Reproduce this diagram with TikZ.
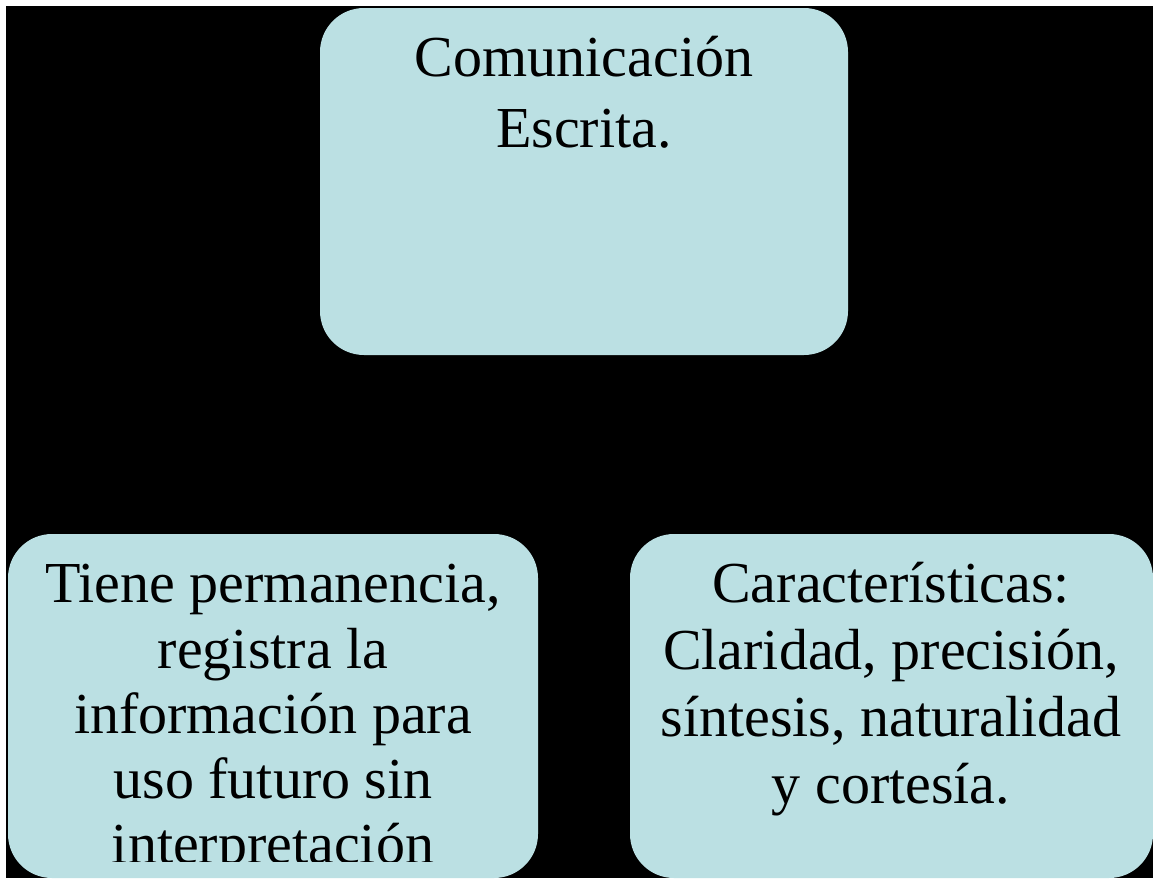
\documentclass[tikz,border=0pt]{standalone}
\usepackage{fontspec}
\setmainfont{Liberation Serif}
\definecolor{cajaazul}{RGB}{187,224,227}
\tikzset{
    caja/.style={fill=cajaazul, rounded corners=44pt},
    texto/.style={anchor=base, inner sep=0pt, font=\fontsize{58}{70}\selectfont}
}
\begin{document}
\begin{tikzpicture}[x=1pt, y=-1pt]
        % Rahmen und Hintergrund
        \useasboundingbox (0,0) rectangle (1153,878);
        \fill[white] (0,0) rectangle (1153,878);
        \fill[black] (6,6) rectangle (1153,878);

        % zeichne Kaesten
        \fill[caja] (320,8) rectangle (848,355);
        \fill[caja] (8,534) rectangle (538,878);
        \fill[caja] (630,534) rectangle (1153,878);

        % Text oben
        \node[texto] (oben1) at (584,76) {Comunicación};
        \node[texto] (oben2) at (584,147) {Escrita.};

        % Text links (unten abgeschnitten)
        \begin{scope}
            \clip (0,0) rectangle (1153,861);
            \node[texto] (links1) at (273,602) {Tiene permanencia,};
            \node[texto] (links2) at (273,668) {registra la};
            \node[texto] (links3) at (273,733) {información para};
            \node[texto] (links4) at (273,798) {uso futuro sin};
            \node[texto] (links5) at (273,863) {interpretación};
        \end{scope}

        % Text rechts
        \node[texto] (rechts1) at (891,602) {Características:};
        \node[texto] (rechts2) at (891,669) {Claridad, precisión,};
        \node[texto] (rechts3) at (891,736) {síntesis, naturalidad};
        \node[texto] (rechts4) at (891,803) {y cortesía.};
    \end{tikzpicture}
\end{document}
